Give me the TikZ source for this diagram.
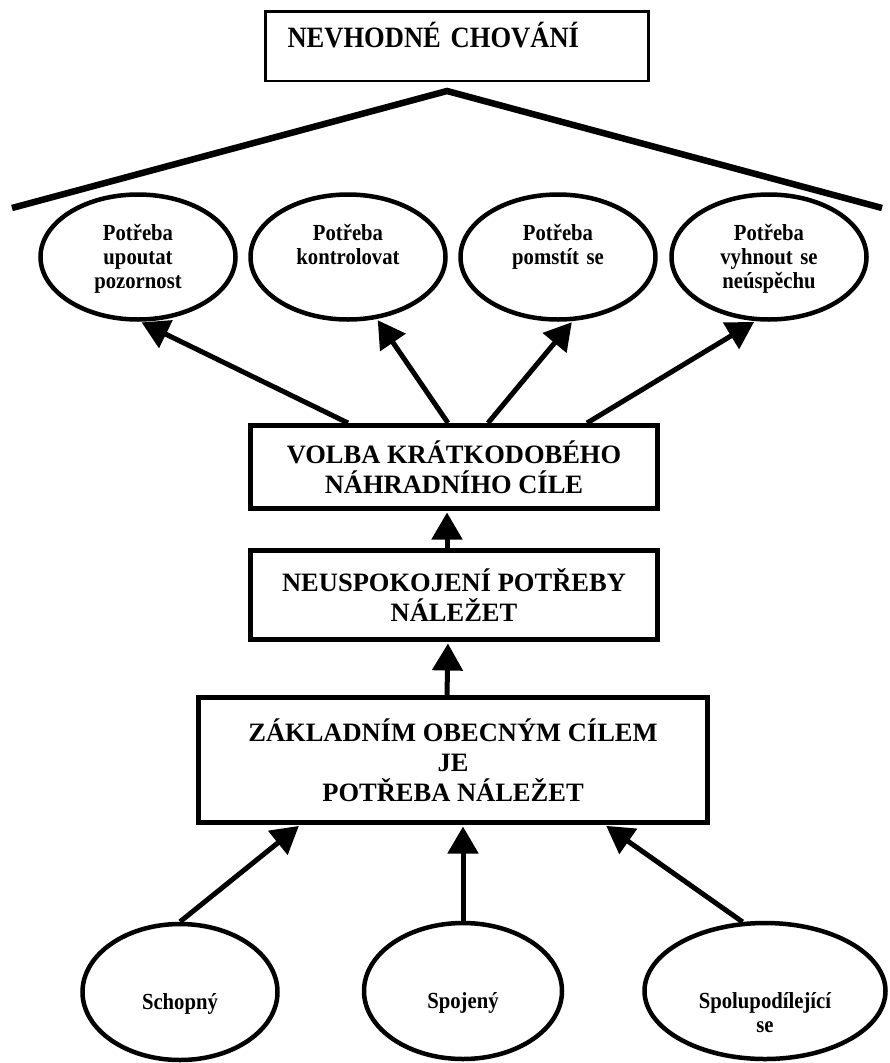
\documentclass[tikz,border=0pt]{standalone}
\usepackage{fontspec}
\setmainfont{Liberation Serif}
\newfontfamily\uzky[FakeStretch=0.9]{Liberation Serif}
\usepackage{tikz}
\usetikzlibrary{arrows.meta, shapes.geometric}
\tikzset{
  %% ── Boxes ────────────────────────────────────────────────────────────
  %% The chain of the middle is drawn heavy; the title box above it is the
  %% only one with a thin frame, and its text sits in its upper left corner.
  blok/.style       = {draw, line width=5pt, rectangle, align=center,
                       inner sep=0pt,
                       font=\fontsize{26.5}{30}\selectfont\bfseries},
  blokTitul/.style  = {blok, line width=2.5pt, align=left, inner xsep=22pt,
                       inner ysep=0pt, text width=339pt,
                       text height=35.75pt, text depth=33.75pt,
                       font=\uzky\fontsize{29.5}{32}\selectfont\bfseries},
  %%
  %% ── Bubbles ──────────────────────────────────────────────────────────
  %% First lines sit at one height in every bubble of a row, whatever the
  %% number of lines, hence the fixed text height and depth.
  bublina/.style    = {draw, ellipse, line width=4.5pt, align=center,
                       inner sep=0pt,
                       font=\uzky\fontsize{23}{24}\selectfont\bfseries},
  bublinaHore/.style= {bublina, minimum width=195pt, minimum height=125pt,
                       text width=115pt, text height=20pt, text depth=54pt},
  bublinaDole/.style= {bublina, minimum height=136pt, text width=136pt,
                       text height=40pt, text depth=6pt},
  %%
  %% ── Lines ────────────────────────────────────────────────────────────
  sipka/.style      = {-{Triangle[length=27pt, width=30pt]}, line width=5pt,
                       shorten >=1.5pt},
  strecha/.style    = {line width=6.5pt},
}

\begin{document}
\begin{tikzpicture}[x=1pt, y=-1pt]

\useasboundingbox (0,0) rectangle (890,1063);

%% Le titre et son toit.
\node[blokTitul, anchor=west] (chovani) at (264.25,46) {NEVHODNÉ CHOVÁNÍ};
\coordinate (vrchol) at (447,91);
\coordinate (toitG) at (12,208);
\coordinate (toitD) at (882,208);
\draw[strecha] (toitG) -- (vrchol) -- (toitD);

%% Les quatre besoins sous le toit.
\foreach \i/\x/\txt in {1/138/{Potřeba\\upoutat\\pozornost},
                        2/348/{Potřeba\\kontrolovat},
                        3/558/{Potřeba\\pomstít se},
                        4/769/{Potřeba\\vyhnout se\\neúspěchu}}
  \node[bublinaHore] (potreba\i) at (\x,257) {\txt};

%% La chaine du milieu.
\node[blok, minimum width=407pt, minimum height=83pt] (volba) at (454,467)
     {VOLBA KRÁTKODOBÉHO\\NÁHRADNÍHO CÍLE};
\node[blok, minimum width=407pt, minimum height=89pt] (neuspokojeni) at (454,595)
     {NEUSPOKOJENÍ POTŘEBY\\NÁLEŽET};
\node[blok, minimum width=509pt, minimum height=125pt] (zaklad) at (453,760)
     {ZÁKLADNÍM OBECNÝM CÍLEM\\JE\\POTŘEBA NÁLEŽET};

%% Les trois qualites en bas.
\node[bublinaDole, minimum width=195pt] (schopny) at (180,992) {Schopný};
\node[bublinaDole, minimum width=198pt] (spojeny) at (463,991) {Spojený};
\node[bublinaDole, minimum width=241pt] (spolu) at (765,991)
     {Spolupodílející\\se};

%% Les fleches.
\foreach \i/\dx/\uhel in {1/-106/-88, 2/-6/-65, 3/34/-77, 4/133/-102}
  \draw[sipka] ([xshift=\dx pt]volba.north) -- (potreba\i.\uhel);
\draw[sipka] ([xshift=-7pt]neuspokojeni.north) -- ([xshift=-7pt]volba.south);
\draw[sipka] ([xshift=-6pt]zaklad.north) -- ([xshift=-6pt]neuspokojeni.south);
\draw[sipka] (schopny.north) -- ([xshift=-153pt]zaklad.south);
\draw[sipka] (spojeny.north) -- (spojeny.north |- zaklad.south);
\draw[sipka] (spolu.108) -- ([xshift=152pt]zaklad.south);

\end{tikzpicture}
\end{document}
